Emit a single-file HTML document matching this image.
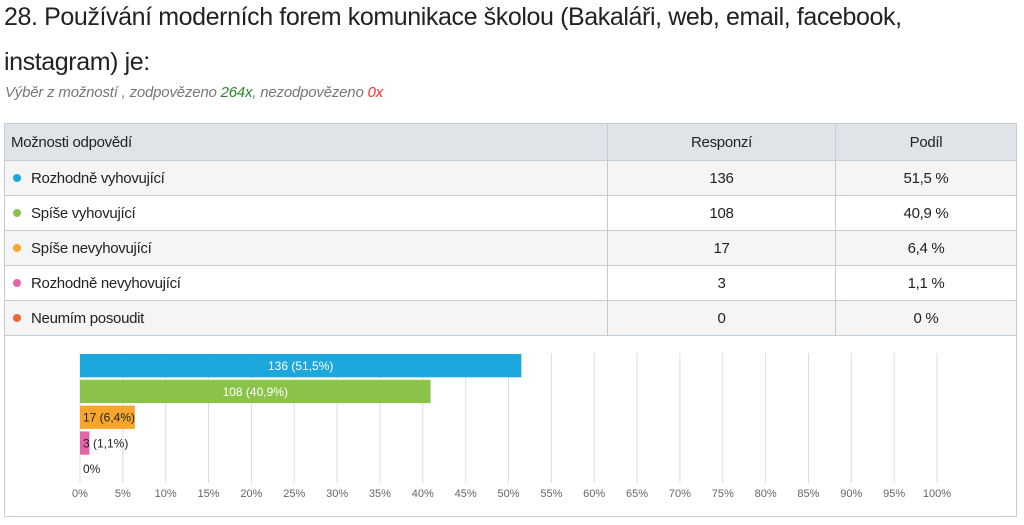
<!DOCTYPE html>
<html><head><meta charset="utf-8"><style>
body{margin:0;width:1024px;height:525px;background:#fff;font-family:"Liberation Sans",sans-serif;color:#222;position:relative;overflow:hidden}
.t{position:absolute;left:4px;top:-5px;font-size:25px;line-height:45px;color:#222;letter-spacing:-0.4px}
.sub{position:absolute;left:5px;top:84px;font-size:15px;font-style:italic;color:#777;letter-spacing:-0.2px}
table{position:absolute;left:4px;top:123px;width:1013px;border-collapse:collapse;font-size:15px;letter-spacing:-0.3px}
td{border:1px solid #c4cbd1;height:34px;padding:0 0 0 6px}
tr.h td{background:#dfe4e8;height:36px}
tr.r1 td{background:#f5f5f5}
td.c{text-align:center;padding:0}
.dot{display:inline-block;width:8px;height:8px;border-radius:50%;margin:0 10px 0 2px;vertical-align:1px}
.box{position:absolute;left:4px;top:336px;width:1011px;height:180px;border:1px solid #c4cbd1;border-top:none}
</style></head><body>
<div class="t">28. Používání moderních forem komunikace školou (Bakaláři, web, email, facebook,<br>instagram) je:</div>
<div class="sub">Výběr z možností , zodpovězeno <span style="color:#2a8a2a">264x</span>, nezodpovězeno <span style="color:#e33">0x</span></div>
<table>
<colgroup><col style="width:603px"><col style="width:228px"><col></colgroup>
<tr class="h"><td>Možnosti odpovědí</td><td class="c">Responzí</td><td class="c">Podíl</td></tr>
<tr class="r1"><td><span class="dot" style="background:#1ca8dd"></span>Rozhodně vyhovující</td><td class="c">136</td><td class="c">51,5 %</td></tr>
<tr><td><span class="dot" style="background:#8bc34a"></span>Spíše vyhovující</td><td class="c">108</td><td class="c">40,9 %</td></tr>
<tr class="r1"><td><span class="dot" style="background:#f7a52b"></span>Spíše nevyhovující</td><td class="c">17</td><td class="c">6,4 %</td></tr>
<tr><td><span class="dot" style="background:#e566a8"></span>Rozhodně nevyhovující</td><td class="c">3</td><td class="c">1,1 %</td></tr>
<tr class="r1"><td><span class="dot" style="background:#ee6633"></span>Neumím posoudit</td><td class="c">0</td><td class="c">0 %</td></tr>
</table>
<div class="box"></div>
<svg id="ch" width="1024" height="525" style="position:absolute;left:0;top:0"></svg>
<script>
const counts=[136,108,17,3,0];
const shares=[51.5,40.9,6.4,1.1,0];
const labels=["136 (51,5%)","108 (40,9%)","17 (6,4%)","3 (1,1%)","0%"];
const colors=["#1ca8dd","#8bc34a","#f7a52b","#e566a8","#ee6633"];
const ticks=[0,5,10,15,20,25,30,35,40,45,50,55,60,65,70,75,80,85,90,95,100];
const svg=document.getElementById('ch');const NS='http://www.w3.org/2000/svg';
const x0=80,x1=937,yTop=353,band=25.8,plotBottom=483;
const x=v=>x0+(x1-x0)*v/100;
function mk(t,a){const e=document.createElementNS(NS,t);for(const k in a)e.setAttribute(k,a[k]);svg.appendChild(e);return e;}
ticks.forEach(t=>{
 const g=mk('line',{x1:x(t),x2:x(t),y1:yTop,y2:plotBottom,stroke:'#ddd','stroke-width':1});
 
 
 const tx=mk('text',{x:x(t),y:497,'text-anchor':'middle','font-size':11,fill:'#666','font-family':'Liberation Sans, sans-serif'});
 tx.textContent=t+'%';
 
 
});
shares.forEach((s,i)=>{
 const y=yTop+1+i*band;
 const r=mk('rect',{x:x0,y:y,width:x(s)-x0,height:band-2.5,fill:colors[i]});
 
 
 const w=x(s)-x0,inside=w>100;
 const t=mk('text',{x:inside?x0+w/2:x0+3,y:y+16,'text-anchor':inside?'middle':'start','font-size':12,fill:inside?'#fff':'#222','font-family':'Liberation Sans, sans-serif'});
 t.textContent=labels[i];
 
 
});
</script>
</body></html>
